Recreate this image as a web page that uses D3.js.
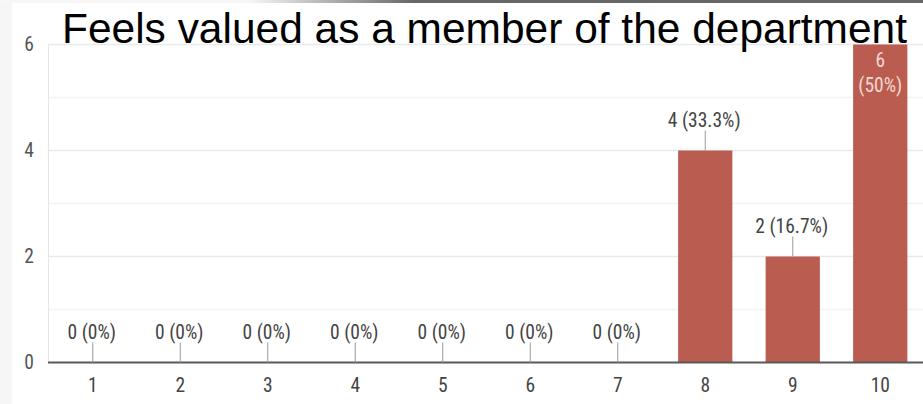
<!DOCTYPE html>
<html>
<head>
<meta charset="utf-8">
<script src="https://cdn.jsdelivr.net/npm/d3@7"></script>
<style>
  html, body { margin: 0; padding: 0; background: #fff; }
  svg { display: block; }
  .small { font-family: "Liberation Sans Narrow", "Roboto Condensed", Roboto, Arial, sans-serif; }
</style>
</head>
<body>
<svg id="chart" width="923" height="404"></svg>
<script>
// Survey answers on a 1–10 scale
const categories = ["1", "2", "3", "4", "5", "6", "7", "8", "9", "10"];
const counts = [0, 0, 0, 0, 0, 0, 0, 4, 2, 6];
const percents = [0, 0, 0, 0, 0, 0, 0, 33.3, 16.7, 50];
const majorTicks = [0, 2, 4, 6];
const minorTicks = [1, 3, 5];
const title = "Feels valued as a member of the department";

const W = 923, H = 404;
const svg = d3.select("#chart");

const x = d3.scaleBand().domain(categories).range([49, 924]).paddingInner(0.38).paddingOuter(0.19);
const y = d3.scaleLinear().domain([0, 6]).range([362.5, 44.5]);

// page frame: light left margin and shaded top edge
const defs = svg.append("defs");
const grad = defs.append("linearGradient").attr("id", "topEdge").attr("x1", "0").attr("x2", "1");
grad.append("stop").attr("offset", "0.27").attr("stop-color", "#f7f7f7");
grad.append("stop").attr("offset", "0.45").attr("stop-color", "#666");
grad.append("stop").attr("offset", "1").attr("stop-color", "#666");
svg.append("rect").attr("x", 0).attr("y", 0).attr("width", 12).attr("height", H).attr("fill", "#f6f6f6");
svg.append("rect").attr("x", 0).attr("y", 0).attr("width", W).attr("height", 3).attr("fill", "url(#topEdge)");

// grid
svg.append("g").selectAll("line").data(minorTicks).join("line")
  .attr("x1", 48).attr("x2", W).attr("y1", d => y(d)).attr("y2", d => y(d))
  .attr("stroke", "#f3f3f3").attr("stroke-width", 1.5);
svg.append("g").selectAll("line").data(majorTicks.filter(d => d > 0)).join("line")
  .attr("x1", 48).attr("x2", W).attr("y1", d => y(d)).attr("y2", d => y(d))
  .attr("stroke", "#e9e9e9").attr("stroke-width", 1.5);
svg.append("line").attr("x1", 48.5).attr("x2", 48.5).attr("y1", y(6)).attr("y2", y(0))
  .attr("stroke", "#e6e6e6");

// y axis labels
const yAxis = svg.append("g").attr("transform", "translate(34,0)")
  .call(d3.axisLeft(y).tickValues(majorTicks).tickFormat(d3.format("d")).tickSize(0).tickPadding(0));
yAxis.select(".domain").remove();
yAxis.selectAll("text").attr("class", "small").attr("font-size", 19.5).attr("fill", "#555");

// bars
svg.append("g").selectAll("rect").data(categories).join("rect")
  .attr("x", d => x(d)).attr("width", x.bandwidth())
  .attr("y", (d, i) => y(counts[i])).attr("height", (d, i) => y(0) - y(counts[i]))
  .attr("fill", "#ba5d50");

// baseline
svg.append("line").attr("x1", 48).attr("x2", W).attr("y1", y(0)).attr("y2", y(0))
  .attr("stroke", "#585858").attr("stroke-width", 2);

// x axis labels
const xAxis = svg.append("g").attr("transform", `translate(0,${y(0)})`)
  .call(d3.axisBottom(x).tickSize(0).tickPadding(16));
xAxis.select(".domain").remove();
xAxis.selectAll("text").attr("class", "small").attr("font-size", 19.5).attr("fill", "#444");

// value labels with leader lines, inside the bar when it reaches the top
const labels = svg.append("g");
categories.forEach((c, i) => {
  const cx = x(c) + x.bandwidth() / 2;
  const top = y(counts[i]);
  if (counts[i] === d3.max(counts)) {
    labels.append("text").attr("class", "small").attr("x", cx).attr("y", top + 22)
      .attr("text-anchor", "middle").attr("font-size", 19.5).attr("fill", "#f4d8d2")
      .text(counts[i]);
    labels.append("text").attr("class", "small").attr("x", cx).attr("y", top + 47)
      .attr("text-anchor", "middle").attr("font-size", 19.5).attr("fill", "#f4d8d2")
      .text(`(${percents[i]}%)`);
  } else {
    labels.append("line").attr("x1", cx).attr("x2", cx).attr("y1", top - 20).attr("y2", top)
      .attr("stroke", "#9a9a9a").attr("stroke-width", 1);
    labels.append("text").attr("class", "small").attr("x", cx - 1).attr("y", top - 24)
      .attr("text-anchor", "middle").attr("font-size", 19.5).attr("fill", "#444")
      .text(`${counts[i]} (${percents[i]}%)`);
  }
});

// title drawn over the plot
svg.append("text").attr("x", 62).attr("y", 43)
  .attr("font-family", "'Liberation Sans', Arial, sans-serif").attr("font-size", 42)
  .attr("fill", "#000").attr("textLength", 845).attr("lengthAdjust", "spacingAndGlyphs")
  .text(title);
</script>
</body>
</html>
